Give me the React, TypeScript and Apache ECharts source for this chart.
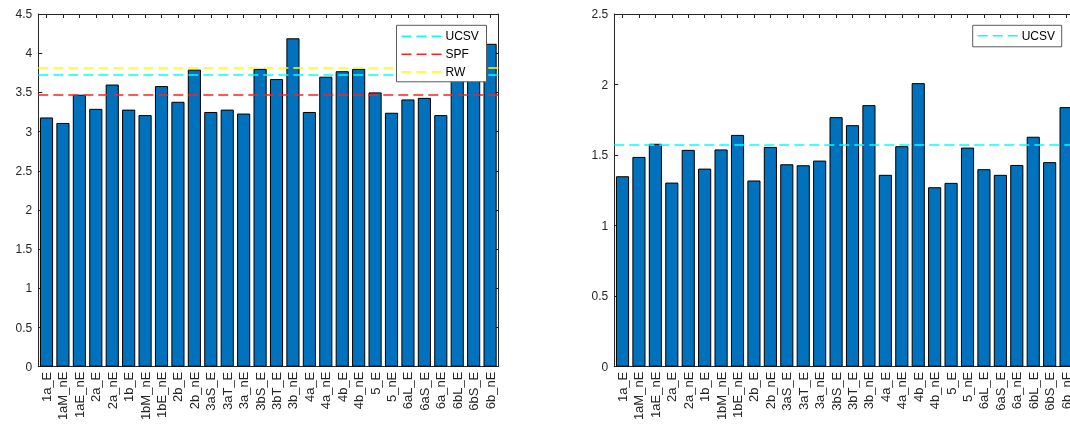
import React, { useEffect, useRef } from "react";
import * as echarts from "echarts";

const categories = [
  "1a_E", "1aM_nE", "1aE_nE", "2a_E", "2a_nE", "1b_E", "1bM_nE", "1bE_nE",
  "2b_E", "2b_nE", "3aS_E", "3aT_E", "3a_nE", "3bS_E", "3bT_E", "3b_nE",
  "4a_E", "4a_nE", "4b_E", "4b_nE", "5_E", "5_nE", "6aL_E", "6aS_E",
  "6a_nE", "6bL_E", "6bS_E", "6b_nE",
];

const leftValues = [
  3.18, 3.11, 3.47, 3.29, 3.6, 3.28, 3.21, 3.58,
  3.38, 3.79, 3.25, 3.28, 3.23, 3.8, 3.67, 4.19,
  3.25, 3.7, 3.77, 3.8, 3.5, 3.24, 3.41, 3.43,
  3.21, 3.9, 3.86, 4.12,
];

const rightValues = [
  1.35, 1.487, 1.58, 1.305, 1.537, 1.404, 1.54, 1.643,
  1.32, 1.558, 1.435, 1.428, 1.461, 1.769, 1.712, 1.854,
  1.36, 1.563, 2.01, 1.272, 1.303, 1.553, 1.4, 1.36,
  1.43, 1.63, 1.45, 1.84,
];

const leftRefNames = ["UCSV", "SPF", "RW"];
const leftRefValues = [3.72, 3.47, 3.82];
const leftRefColors = ["#00ffff", "#ff2020", "#ffff00"];

const rightRefNames = ["UCSV"];
const rightRefValues = [1.572];
const rightRefColors = ["#00ffff"];

const leftTicks = { min: 0, max: 4.5, interval: 0.5 };
const rightTicks = { min: 0, max: 2.5, interval: 0.5 };

const FONT = "Liberation Sans";
const AXIS_COLOR = "#262626";
const BAR_COLOR = "#0072BD";
const DASH = [10, 5];

function makeLegend(x: number, y: number, w: number, h: number, names: string[], colors: string[], rowY: number[]) {
  const Z = 200;
  const children: any[] = [
    {
      type: "rect",
      z: Z,
      shape: { x: 0, y: 0, width: w, height: h },
      style: { fill: "#ffffff", stroke: "#5a5a5a", lineWidth: 1 },
    },
  ];
  names.forEach((n, i) => {
    children.push({
      type: "line",
      z: Z + 1,
      shape: { x1: 5, y1: rowY[i], x2: 47, y2: rowY[i] },
      style: { stroke: colors[i], lineWidth: 1.5, lineDash: DASH },
    });
    children.push({
      type: "text",
      z: Z + 1,
      x: 49,
      y: rowY[i],
      style: {
        text: n,
        fill: "#000000",
        font: `12px "${FONT}"`,
        verticalAlign: "middle",
      },
    });
  });
  return { type: "group", x, y, z: Z, children };
}

export default function App() {
  const ref = useRef<HTMLDivElement>(null);

  useEffect(() => {
    if (!ref.current) return;
    const chart = echarts.init(ref.current, null, { renderer: "svg" });

    const grids = [
      { left: 38.3, top: 14, width: 460, bottom: 58.3, outerBoundsMode: "none" },
      { left: 614.3, top: 14, width: 460, bottom: 58.3, outerBoundsMode: "none" },
    ];

    const catAxis = (gridIndex: number, position: "bottom" | "top", showLabels: boolean) => ({
      type: "category",
      gridIndex,
      position,
      data: categories,
      boundaryGap: true,
      axisLine: { show: true, onZero: false, lineStyle: { color: AXIS_COLOR, width: 1 } },
      axisTick: { show: true, inside: true, alignWithLabel: true, interval: 0, length: 4, lineStyle: { color: AXIS_COLOR } },
      axisLabel: {
        show: showLabels,
        interval: 0,
        rotate: 90,
        fontSize: 13,
        fontFamily: FONT,
        color: AXIS_COLOR,
        margin: 5,
        hideOverlap: false,
      },
      splitLine: { show: false },
    });

    const valAxis = (gridIndex: number, position: "left" | "right", t: any, showLabels: boolean) => ({
      type: "value",
      gridIndex,
      position,
      min: t.min,
      max: t.max,
      interval: t.interval,
      axisLine: { show: true, onZero: false, lineStyle: { color: AXIS_COLOR, width: 1 } },
      axisTick: { show: true, inside: true, length: 4, lineStyle: { color: AXIS_COLOR } },
      axisLabel: {
        show: showLabels,
        fontSize: 12,
        fontFamily: FONT,
        color: AXIS_COLOR,
        margin: 6,
      },
      splitLine: { show: false },
    });

    const refSeries = (xi: number, yi: number, v: number, color: string) => ({
      type: "line",
      xAxisIndex: xi,
      yAxisIndex: yi,
      data: [],
      silent: true,
      z: 5,
      markLine: {
        silent: true,
        symbol: "none",
        label: { show: false },
        lineStyle: { color, type: DASH, width: 1.5, opacity: 1 },
        emphasis: { disabled: true },
        data: [{ yAxis: v }],
      },
    });

    const series: any[] = [
      {
        type: "bar",
        xAxisIndex: 0,
        yAxisIndex: 0,
        data: leftValues,
        barWidth: "80%",
        itemStyle: { color: BAR_COLOR, borderColor: "#000000", borderWidth: 1 },
      },
      {
        type: "bar",
        xAxisIndex: 2,
        yAxisIndex: 2,
        data: rightValues,
        barWidth: "80%",
        itemStyle: { color: BAR_COLOR, borderColor: "#000000", borderWidth: 1 },
      },
    ];
    leftRefValues.forEach((v, i) => series.push(refSeries(0, 0, v, leftRefColors[i])));
    rightRefValues.forEach((v, i) => series.push(refSeries(2, 2, v, rightRefColors[i])));

    chart.setOption({
      animation: false,
      textStyle: { fontFamily: FONT },
      grid: grids,
      xAxis: [
        catAxis(0, "bottom", true),
        catAxis(0, "top", false),
        catAxis(1, "bottom", true),
        catAxis(1, "top", false),
      ],
      yAxis: [
        valAxis(0, "left", leftTicks, true),
        valAxis(0, "right", leftTicks, false),
        valAxis(1, "left", rightTicks, true),
        valAxis(1, "right", rightTicks, false),
      ],
      series,
      graphic: [
        makeLegend(396.5, 25.3, 90, 56.5, leftRefNames, leftRefColors, [11, 29, 46.7]),
        makeLegend(972.7, 25.3, 89, 21.5, rightRefNames, rightRefColors, [10.5]),
      ],
    });

    return () => chart.dispose();
  }, []);

  return (
    <div
      ref={ref}
      style={{ position: "fixed", left: 0, top: 0, width: 1070, height: 425 }}
    />
  );
}
